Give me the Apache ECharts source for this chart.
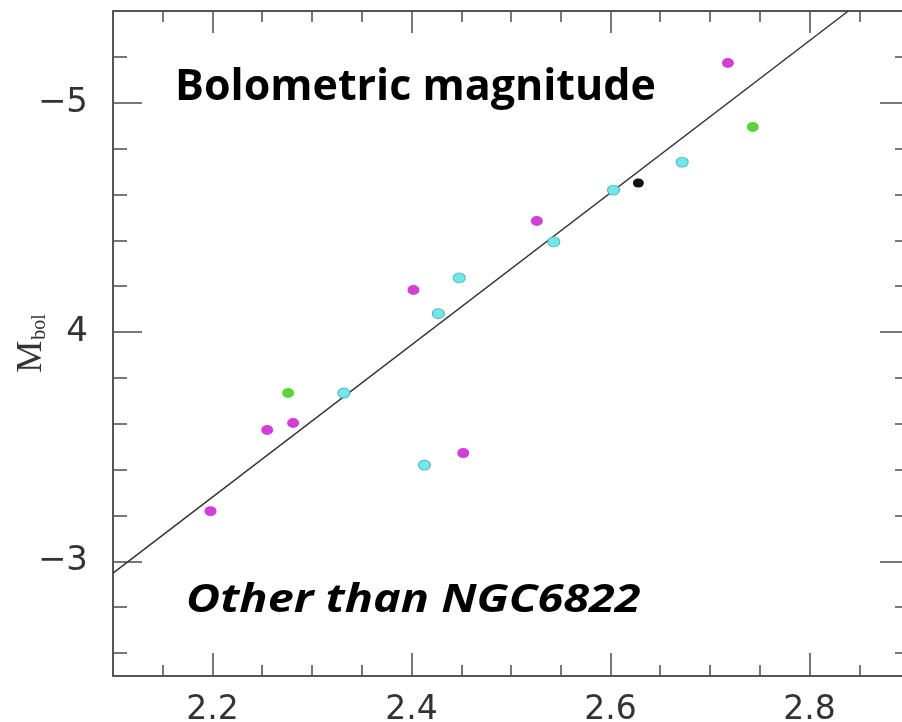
<!DOCTYPE html>
<html>
<head>
<meta charset="utf-8">
<script src="https://cdn.jsdelivr.net/npm/echarts@6/dist/echarts.min.js"></script>
<style>
html,body{margin:0;padding:0;background:#fff;}
#chart{width:902px;height:722px;}
</style>
</head>
<body>
<div id="chart"></div>
<script>
// ---- data ----
var magentaX = [2.198, 2.255, 2.281, 2.452, 2.402, 2.526, 2.718];
var magentaY = [-3.219, -3.573, -3.603, -3.472, -4.183, -4.484, -5.173];
var cyanX = [2.332, 2.413, 2.427, 2.448, 2.543, 2.603, 2.672];
var cyanY = [-3.734, -3.420, -4.080, -4.236, -4.393, -4.619, -4.741];
var greenX = [2.276, 2.743];
var greenY = [-3.734, -4.894];
var blackX = [2.628];
var blackY = [-4.650];
var fitX = [2.1, 2.839];
var fitY = [-2.949, -5.4];

var xMajor = [2.2, 2.4, 2.6, 2.8];
var xMinor = [2.15, 2.25, 2.3, 2.35, 2.45, 2.5, 2.55, 2.65, 2.7, 2.75, 2.85];
var xTickLabels = ['2.2', '2.4', '2.6', '2.8'];
var yMajor = [-5, -4, -3];
var yMinor = [-5.2, -4.8, -4.6, -4.4, -4.2, -3.8, -3.6, -3.4, -3.2, -2.8, -2.6];
var yTickLabels = ['\u22125', '4', '\u22123'];
var titleText = 'Bolometric magnitude';
var subText = 'Other than NGC6822';

function pairs(xs, ys) { return xs.map(function (x, i) { return [x, ys[i]]; }); }

var axisColor = '#555';
var labelFont = 'DejaVu Sans';

function xAx(pos, ticks, len, labels) {
  return {
    type: 'value', position: pos, min: 2.1, max: 2.9, gridIndex: 0,
    axisLine: { show: true, lineStyle: { color: axisColor, width: 2 } },
    axisTick: { show: true, inside: true, length: len, customValues: ticks, lineStyle: { color: axisColor, width: 1.6 } },
    axisLabel: labels ? {
      show: true, customValues: xMajor, margin: 18, fontSize: 33, fontFamily: labelFont, color: '#333',
      formatter: function (v) { var i = xMajor.findIndex(function (m) { return Math.abs(m - v) < 1e-6; }); return i >= 0 ? xTickLabels[i] : ''; }
    } : { show: false },
    splitLine: { show: false }
  };
}
function yAx(pos, ticks, len, labels) {
  var o = {
    type: 'value', position: pos, min: -5.4, max: -2.5, inverse: true, gridIndex: 0,
    axisLine: { show: true, lineStyle: { color: axisColor, width: 2 } },
    axisTick: { show: true, inside: true, length: len, customValues: ticks, lineStyle: { color: axisColor, width: 1.6 } },
    axisLabel: labels ? {
      show: true, customValues: yMajor, margin: 25, fontSize: 34, fontFamily: labelFont, color: '#333',
      formatter: function (v) { var i = yMajor.findIndex(function (m) { return Math.abs(m - v) < 1e-6; }); return i >= 0 ? yTickLabels[i] : ''; }
    } : { show: false },
    splitLine: { show: false }
  };
  if (labels) {
    o.name = '{m|M}{s|bol}';
    o.nameLocation = 'middle';
    o.nameRotate = 90;
    o.nameGap = 63;
    o.nameMoveOverlap = false;
    o.nameTextStyle = {
      rich: {
        m: { fontSize: 36, fontFamily: 'Liberation Serif', color: '#333', lineHeight: 36, verticalAlign: 'top' },
        s: { fontSize: 20, fontFamily: 'Liberation Serif', color: '#333', lineHeight: 20, padding: [24, 0, 0, 1], verticalAlign: 'bottom' }
      }
    };
  }
  return o;
}

var chart = echarts.init(document.getElementById('chart'), null, { renderer: 'canvas' });
chart.setOption({
  animation: false,
  backgroundColor: '#fff',
  title: [
    { text: titleText, left: 170, top: 61, textStyle: { fontFamily: 'Open Sans', fontWeight: 'bold', fontSize: 43, color: '#000' } }
  ],
  graphic: [
    { type: 'text', x: 186, y: 601, scaleX: 1.2, z: 10,
      style: { text: subText, font: 'italic bold 39px "Open Sans"', fill: '#000', align: 'left', verticalAlign: 'middle' } }
  ],
  grid: { left: 113, top: 11, width: 796, height: 665, containLabel: false, outerBoundsMode: 'none' },
  xAxis: [
    xAx('bottom', xMajor, 23, true),
    xAx('bottom', xMinor, 11, false),
    xAx('top', xMajor, 22, false),
    xAx('top', xMinor, 11, false)
  ],
  yAxis: [
    yAx('left', yMajor, 29, true),
    yAx('left', yMinor, 14, false),
    yAx('right', yMajor, 29, false),
    yAx('right', yMinor, 14, false)
  ],
  series: [
    { type: 'line', data: pairs(fitX, fitY), symbol: 'none', lineStyle: { color: '#333', width: 1.5 }, z: 2 },
    { type: 'scatter', data: pairs(magentaX, magentaY), symbolSize: [12, 10], itemStyle: { color: '#d23fd6', opacity: 1 }, z: 3 },
    { type: 'scatter', data: pairs(cyanX, cyanY), symbolSize: [12, 10], itemStyle: { color: '#74e6ea', borderColor: '#4fb8bc', borderWidth: 1, opacity: 1 }, z: 3 },
    { type: 'scatter', data: pairs(greenX, greenY), symbolSize: [12, 10], itemStyle: { color: '#5ad43a', opacity: 1 }, z: 3 },
    { type: 'scatter', data: pairs(blackX, blackY), symbolSize: [11, 9], itemStyle: { color: '#111', opacity: 1 }, z: 3 }
  ]
});
</script>
</body>
</html>
